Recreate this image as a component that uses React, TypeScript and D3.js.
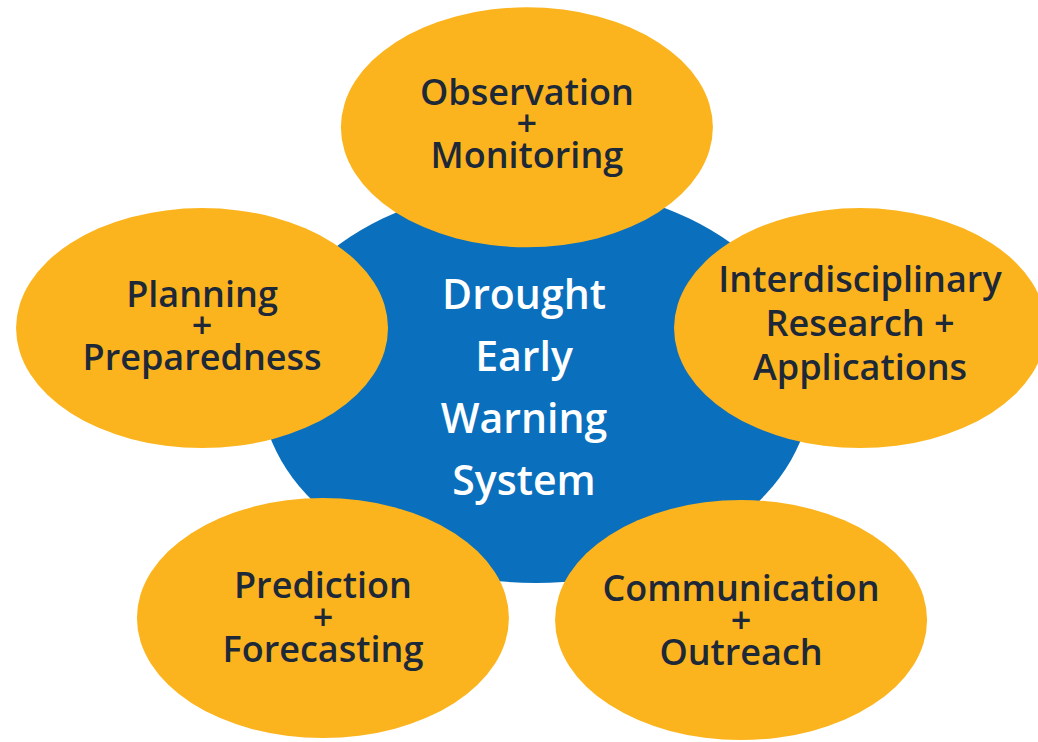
import React from "react";
import * as d3 from "d3";

// ---- data ----
const hubLabel = ["Drought", "Early", "Warning", "System"];
const components = [
  ["Observation", "+", "Monitoring"],
  ["Interdisciplinary", "Research +", "Applications"],
  ["Communication", "+", "Outreach"],
  ["Prediction", "+", "Forecasting"],
  ["Planning", "+", "Preparedness"],
];

// ---- layout (unit coordinates relative to hub) ----
const W = 1038;
const H = 742;
const hub = { cx: 536, cy: 384, rx: 276, ry: 199 };
// node centres in units of hub radii
const nodeLayout = [
  { u: -0.033, v: -1.29, lh: 31.5, off: 9 },
  { u: 1.174, v: -0.281, lh: 44, off: 8 },
  { u: 0.743, v: 1.186, lh: 32, off: 13 },
  { u: -0.772, v: 1.176, lh: 32, off: 12 },
  { u: -1.21, v: -0.281, lh: 31.5, off: 10 },
];
const nodeR = { rx: 186, ry: 120 };

const ORANGE = "#FBB41E";
const BLUE = "#0A6FBC";
const NAVY = "#1D2838";
const FONT = "'Open Sans', 'Noto Sans', sans-serif";

export default function App() {
  const x = d3.scaleLinear().domain([-1, 1]).range([hub.cx - hub.rx, hub.cx + hub.rx]);
  const y = d3.scaleLinear().domain([-1, 1]).range([hub.cy - hub.ry, hub.cy + hub.ry]);

  const hubLH = 62.3;
  const hubTextX = 524;

  return (
    <svg
      width={W}
      height={H}
      style={{ position: "absolute", left: 0, top: 0, background: "#fff" }}
    >
      <rect width={W} height={H} fill="#fff" />
      <ellipse cx={x(0)} cy={y(0)} rx={hub.rx} ry={hub.ry} fill={BLUE} />
      <text
        fontFamily={FONT}
        fontWeight={600}
        fontSize={41}
        fill="#fff"
        textAnchor="middle"
      >
        {hubLabel.map((t, i) => (
          <tspan
            key={i}
            x={hubTextX}
            y={y(0) + (i - (hubLabel.length - 1) / 2) * hubLH + 18}
          >
            {t}
          </tspan>
        ))}
      </text>
      {components.map((lines, k) => {
        const L = nodeLayout[k];
        const cx = x(L.u);
        const cy = y(L.v);
        return (
          <g key={k}>
            <ellipse cx={cx} cy={cy} rx={nodeR.rx} ry={nodeR.ry} fill={ORANGE} />
            <text
              fontFamily={FONT}
              fontWeight={600}
              fontSize={36}
              fill={NAVY}
              textAnchor="middle"
            >
              {lines.map((t, i) => (
                <tspan
                  key={i}
                  x={cx}
                  y={cy + (i - (lines.length - 1) / 2) * L.lh + L.off}
                >
                  {t}
                </tspan>
              ))}
            </text>
          </g>
        );
      })}
    </svg>
  );
}
